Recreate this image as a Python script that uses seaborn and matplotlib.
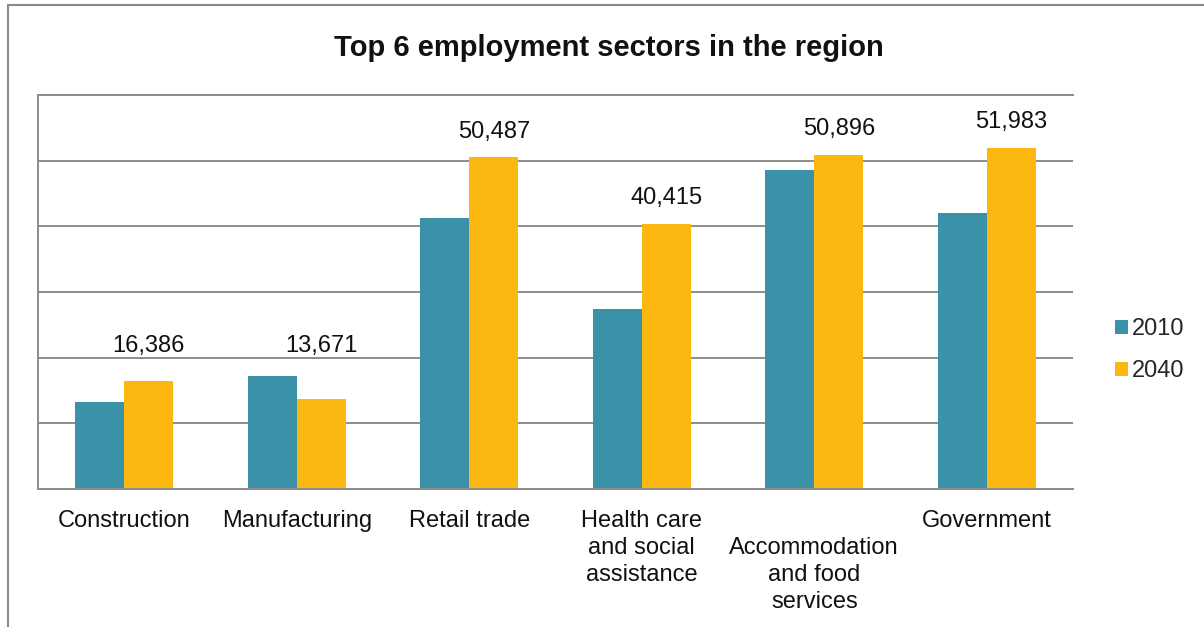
import matplotlib
matplotlib.use("Agg")
import matplotlib.pyplot as plt
from matplotlib.lines import Line2D
import seaborn as sns
import pandas as pd

# Employment by sector, 2010 vs 2040 projection
sectors = ["Construction", "Manufacturing", "Retail trade",
           "Health care and social assistance",
           "Accommodation and food services", "Government"]
tick_labels = ["Construction", "Manufacturing", "Retail trade",
               "Health care\nand social\nassistance",
               "\nAccommodation\nand food\nservices", "Government"]
years = ["2010", "2040"]
jobs_2010 = [13200, 17150, 41250, 27400, 48600, 42100]
jobs_2040 = [16386, 13671, 50487, 40415, 50896, 51983]

df = pd.DataFrame({
    "sector": sectors * 2,
    "year": [years[0]] * len(sectors) + [years[1]] * len(sectors),
    "jobs": jobs_2010 + jobs_2040,
})

sns.set_theme(style="white")
plt.rcParams["font.family"] = ["Liberation Sans", "DejaVu Sans"]

teal = "#3A91A8"
gold = "#FDB711"
grid_gray = "#8C8C8C"
text_color = "#111111"

W, H = 1204, 627
fig = plt.figure(figsize=(W / 100, H / 100), dpi=100)
ax = fig.add_axes([38 / W, 1 - 489 / H, (1073 - 38) / W, (489 - 95) / H])

sns.barplot(data=df, x="sector", y="jobs", hue="year", order=sectors,
            hue_order=years, palette=[teal, gold], width=0.57, gap=0,
            linewidth=0, saturation=1, ax=ax)

ax.set_ylim(0, 60000)
ax.set_yticks(range(0, 60001, 10000))
ax.set_yticklabels([])
ax.yaxis.grid(True, color=grid_gray, linewidth=1.4)
ax.set_axisbelow(True)
ax.set_xlabel("")
ax.set_ylabel("")
ax.set_xticks(range(len(sectors)))
ax.set_xticklabels(tick_labels, fontsize=17, linespacing=1.3, color=text_color)
ax.tick_params(axis="both", length=0)
ax.tick_params(axis="x", pad=15)

for side in ["left", "bottom", "top"]:
    ax.spines[side].set_visible(True)
    ax.spines[side].set_color(grid_gray)
    ax.spines[side].set_linewidth(1.4)
ax.spines["right"].set_visible(False)

# Value labels above the 2040 bars; the two short sectors share one raised level
bars_2040 = ax.containers[1]
low_label_y = 21800
for i, (bar, v) in enumerate(zip(bars_2040, jobs_2040)):
    x = bar.get_x() + bar.get_width() / 2
    text = f"{v:,}"
    if i < 2:
        ax.text(x, low_label_y, text, ha="center", va="center",
                fontsize=17, color=text_color)
    else:
        ax.annotate(text, (x, bar.get_height()), xytext=(0, 18.5),
                    textcoords="offset points", ha="center", va="center",
                    fontsize=17, color=text_color)

handles, labels = ax.get_legend_handles_labels()
ax.legend_.remove()
fig.legend(handles, labels, loc="center left",
           bbox_to_anchor=(1106 / W, 1 - 350 / H), frameon=False,
           fontsize=17, handlelength=0.55, handleheight=0.55,
           handletextpad=0.15, labelspacing=0.85, borderaxespad=0)

fig.text(609 / W, 1 - 48 / H, "Top 6 employment sectors in the region",
         ha="center", va="center", fontsize=21, fontweight="bold",
         color=text_color)

# Outer chart frame
frame_kw = dict(color="#8A8A8A", linewidth=1.5, transform=fig.transFigure)
fig.add_artist(Line2D([8 / W, 8 / W], [0, 1 - 5 / H], **frame_kw))
fig.add_artist(Line2D([8 / W, 1], [1 - 5 / H, 1 - 5 / H], **frame_kw))

fig.savefig("out.png", dpi=100)
